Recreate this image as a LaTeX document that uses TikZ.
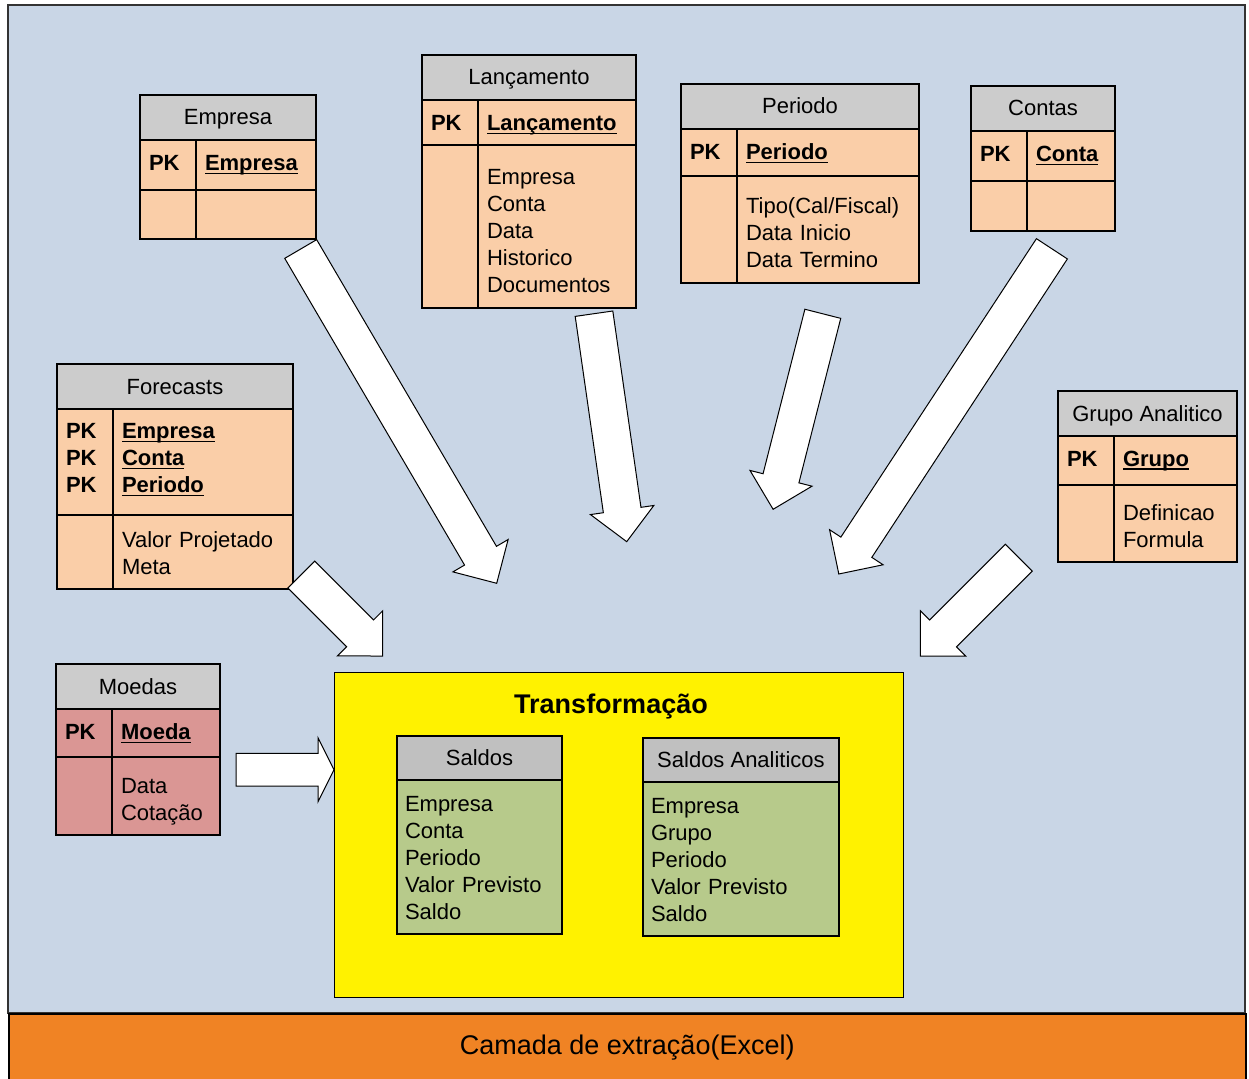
\documentclass[tikz,border=0pt]{standalone}
\usepackage{fontspec}
\setmainfont{Liberation Sans}
\usetikzlibrary{calc}

\definecolor{bgblue}{RGB}{201,214,230}
\definecolor{peach}{RGB}{250,206,168}
\definecolor{rose}{RGB}{218,150,148}
\definecolor{hdrgray}{RGB}{204,204,204}
\definecolor{hdrdark}{RGB}{192,192,192}
\definecolor{olive}{RGB}{183,202,139}
\definecolor{extract}{RGB}{240,131,36}

\newcommand{\tabfont}{\fontsize{22pt}{27pt}\selectfont}
% key field name, underlined close to the baseline
\newcommand{\keyname}[1]{\leavevmode\setbox0\hbox{#1}\rlap{\rule[-3.8pt]{\wd0}{1.6pt}}\box0}

\tikzset{
  cell/.style={draw, line width=1.3pt, inner xsep=9pt, inner ysep=0pt, outer sep=0pt, anchor=north west, align=left, fill=peach, font=\tabfont},
  hdr/.style={cell, fill=hdrgray, align=center, inner xsep=4pt, text height=30pt, text depth=15pt},
  keycell/.style={cell, font=\tabfont\bfseries, text width=38pt},
  fieldcell/.style={cell},
  keyfield/.style={cell, font=\tabfont\bfseries},
  saldohdr/.style={hdr, fill=hdrdark, text height=29.5pt, text depth=14.5pt},
  saldobody/.style={cell, fill=olive, inner xsep=8pt, text height=31.5pt, text depth=122.5pt},
  blockarrow/.style={draw=black, fill=white, line width=1pt, line join=miter}
}

% fat arrow: tail, tip, half shaft width, head length
\newcommand{\fatarrow}[4]{%
  \coordinate (fa-base) at ($(#2)!#4!(#1)$);
  \draw[blockarrow] ($(#1)!#3!90:(#2)$) -- ($(fa-base)!#3!-90:(#1)$)
    -- ($(fa-base)!32pt!-90:(#1)$) -- (#2) -- ($(fa-base)!32pt!90:(#1)$)
    -- ($(fa-base)!#3!90:(#1)$) -- ($(#1)!#3!-90:(#2)$) -- cycle;}

\begin{document}
\begin{tikzpicture}[x=1pt, y=-1pt]

\useasboundingbox (0,0) rectangle (1249,1078);

\draw[black!80, line width=1.5pt, fill=bgblue] (8,5) rectangle (1245,1013);
\node[draw, line width=1.5pt, fill=extract, anchor=north west, minimum width=1237pt, minimum height=67pt, inner sep=0pt, font=\fontsize{27pt}{32pt}\selectfont] (excel) at (8,1013) {\raisebox{2pt}{Camada de extração(Excel)}};

% Empresa
\node[hdr, minimum width=176pt] (emp) at (140,95) {Empresa};
\node[keycell, text height=30.5pt, text depth=19.5pt] (emp-k) at (emp.south west) {PK};
\node[keyfield, text width=102pt, text height=30.5pt, text depth=19.5pt] (emp-f) at (emp-k.north east) {\keyname{Empresa}};
\node[keycell, minimum height=49pt] (emp-kb) at (emp-k.south west) {};
\node[fieldcell, text width=102pt, minimum height=49pt] (emp-fb) at (emp-kb.north east) {};

% Lancamento
\node[hdr, minimum width=214pt] (lanc) at (422,55) {Lançamento};
\node[keycell, text height=30.5pt, text depth=14.5pt] (lanc-k) at (lanc.south west) {PK};
\node[keyfield, text width=140pt, text height=30.5pt, text depth=14.5pt] (lanc-f) at (lanc-k.north east) {\keyname{Lançamento}};
\node[keycell, minimum height=163pt] (lanc-kb) at (lanc-k.south west) {};
\node[fieldcell, text width=140pt, text height=39.5pt, text depth=123.5pt] (lanc-fb) at (lanc-kb.north east) {Empresa\\Conta\\Data\\Historico\\Documentos};

% Periodo
\node[hdr, minimum width=238pt] (per) at (681,84) {Periodo};
\node[keycell, text height=30.5pt, text depth=16.5pt] (per-k) at (per.south west) {PK};
\node[keyfield, text width=164pt, text height=30.5pt, text depth=16.5pt] (per-f) at (per-k.north east) {\keyname{Periodo}};
\node[keycell, minimum height=107pt] (per-kb) at (per-k.south west) {};
\node[fieldcell, text width=164pt, text height=37.5pt, text depth=69.5pt] (per-fb) at (per-kb.north east) {Tipo(Cal/Fiscal)\\Data Inicio\\Data Termino};

% Contas
\node[hdr, minimum width=144pt] (cont) at (971,86) {Contas};
\node[keycell, text height=30.5pt, text depth=19.5pt] (cont-k) at (cont.south west) {PK};
\node[keyfield, text width=70pt, text height=30.5pt, text depth=19.5pt] (cont-f) at (cont-k.north east) {\keyname{Conta}};
\node[keycell, minimum height=50pt] (cont-kb) at (cont-k.south west) {};
\node[fieldcell, text width=70pt, minimum height=50pt] (cont-fb) at (cont-kb.north east) {};

% Forecasts
\node[hdr, minimum width=236pt] (fore) at (57,364) {Forecasts};
\node[keycell, text height=29.5pt, text depth=76.5pt] (fore-k) at (fore.south west) {PK\\PK\\PK};
\node[keyfield, text width=162pt, text height=29.5pt, text depth=76.5pt] (fore-f) at (fore-k.north east) {\keyname{Empresa}\\\keyname{Conta}\\\keyname{Periodo}};
\node[keycell, minimum height=74pt] (fore-kb) at (fore-k.south west) {};
\node[fieldcell, text width=162pt, text height=32.5pt, text depth=41.5pt] (fore-fb) at (fore-kb.north east) {Valor Projetado\\Meta};

% Grupo Analitico
\node[hdr, minimum width=179pt] (grp) at (1058,391) {Grupo Analitico};
\node[keycell, text height=30pt, text depth=19pt] (grp-k) at (grp.south west) {PK};
\node[keyfield, text width=105pt, text height=30pt, text depth=19pt] (grp-f) at (grp-k.north east) {\keyname{Grupo}};
\node[keycell, minimum height=77pt] (grp-kb) at (grp-k.south west) {};
\node[fieldcell, text width=105pt, text height=35.5pt, text depth=41.5pt] (grp-fb) at (grp-kb.north east) {Definicao\\Formula};

% Moedas
\node[hdr, minimum width=164pt] (moe) at (56,664) {Moedas};
\node[keycell, fill=rose, text height=30.5pt, text depth=17.5pt] (moe-k) at (moe.south west) {PK};
\node[keyfield, fill=rose, text width=90pt, text height=30.5pt, text depth=17.5pt] (moe-f) at (moe-k.north east) {\keyname{Moeda}};
\node[keycell, fill=rose, minimum height=78pt] (moe-kb) at (moe-k.south west) {};
\node[fieldcell, fill=rose, text width=90pt, text height=36.5pt, text depth=41.5pt] (moe-fb) at (moe-kb.north east) {Data\\Cotação};

% Transformacao
\node[draw, line width=1.3pt, fill=yellow, anchor=north west, minimum width=569pt, minimum height=325pt] (trans) at (334,672) {};
\node[font=\fontsize{27pt}{32pt}\selectfont\bfseries] (trans-title) at (611,707) {Transformação};

\node[saldohdr, minimum width=165pt] (sal) at (397,736) {Saldos};
\node[saldobody, text width=149pt] (sal-b) at (sal.south west) {Empresa\\Conta\\Periodo\\Valor Previsto\\Saldo};

\node[saldohdr, minimum width=196pt] (salan) at (643,738) {Saldos Analiticos};
\node[saldobody, text width=180pt] (salan-b) at (salan.south west) {Empresa\\Grupo\\Periodo\\Valor Previsto\\Saldo};

% arrow ends
\coordinate (emp-out) at (300.7,249);
\coordinate (emp-in) at (496.7,583.3);
\coordinate (lanc-out) at (594,313.7);
\coordinate (lanc-in) at (626.7,541.7);
\coordinate (per-out) at (822.8,313.8);
\coordinate (per-in) at (773.1,509.3);
\coordinate (cont-out) at (1051.9,248.8);
\coordinate (cont-in) at (838.8,574);
\coordinate (fore-out) at (301.3,574.5);
\coordinate (fore-in) at (382.7,656);
\coordinate (grp-out) at (1018.8,557.7);
\coordinate (grp-in) at (920.4,656);
\coordinate (moe-out) at (236,769.7);

\fatarrow{emp-out}{emp-in}{18.5pt}{32pt}
\fatarrow{lanc-out}{lanc-in}{19pt}{32pt}
\fatarrow{per-out}{per-in}{18.5pt}{32pt}
\fatarrow{cont-out}{cont-in}{18.5pt}{32pt}
\fatarrow{fore-out}{fore-in}{19pt}{32pt}
\fatarrow{grp-out}{grp-in}{19pt}{32pt}
\fatarrow{moe-out}{trans.west |- moe-out}{16.3pt}{16pt}

\end{tikzpicture}
\end{document}
